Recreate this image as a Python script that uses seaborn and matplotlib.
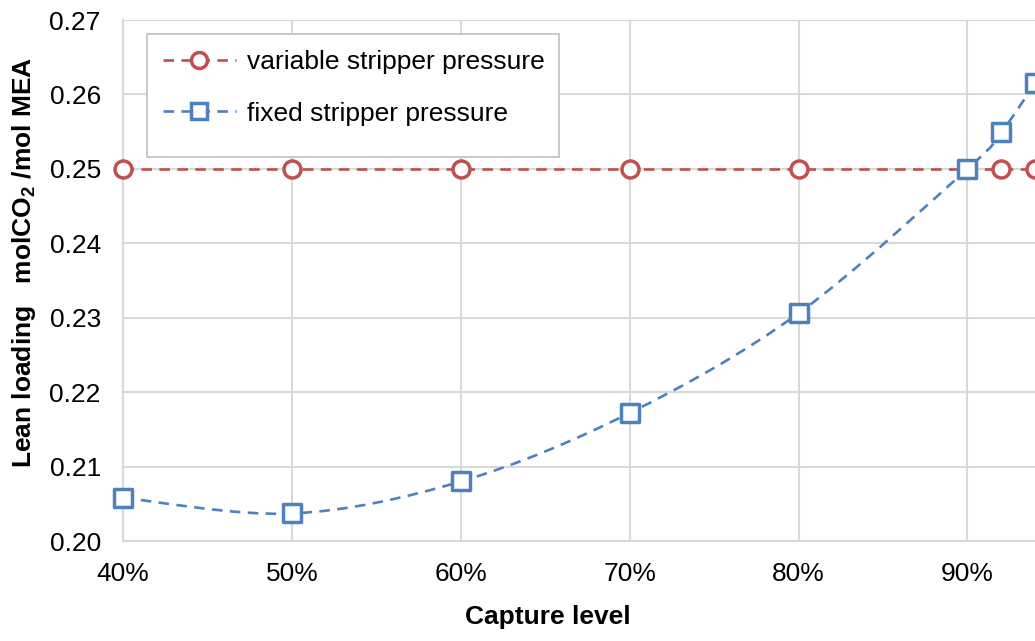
import numpy as np
import pandas as pd
import matplotlib
matplotlib.use("Agg")
import matplotlib.pyplot as plt
from matplotlib.path import Path
from matplotlib.patches import PathPatch, Rectangle
from matplotlib.lines import Line2D
from matplotlib.ticker import FuncFormatter, MultipleLocator
import seaborn as sns

# ---- data ----
capture = [0.40, 0.50, 0.60, 0.70, 0.80, 0.90, 0.92, 0.94]
variable_pressure = [0.250, 0.250, 0.250, 0.250, 0.250, 0.250, 0.250, 0.250]
fixed_pressure = [0.2058, 0.2037, 0.2080, 0.2172, 0.2306, 0.2500, 0.2549, 0.2615]
series_names = ["variable stripper pressure", "fixed stripper pressure"]

RED = "#c0504d"
BLUE = "#4f81bd"
GRID = "#d9d9d9"

sns.set_theme(style="white")
plt.rcParams["font.family"] = ["Liberation Sans", "DejaVu Sans"]
plt.rcParams["mathtext.fontset"] = "custom"
plt.rcParams["mathtext.rm"] = "Liberation Sans"
plt.rcParams["mathtext.bf"] = "Liberation Sans:bold"
plt.rcParams["text.color"] = "black"
plt.rcParams["axes.labelcolor"] = "black"

FS = 19

fig = plt.figure(figsize=(10.35, 6.41), dpi=100)
ax = fig.add_axes([123 / 1035, 1 - 541 / 641, 1 - 123 / 1035, (541 - 20) / 641])

df_var = pd.DataFrame({"x": capture, "y": variable_pressure})
df_fix = pd.DataFrame({"x": capture, "y": fixed_pressure})

dash = (4.0, 2.8)
lw = 1.9

# variable: straight dashed line
sns.lineplot(data=df_var, x="x", y="y", ax=ax, color=RED, lw=lw,
             dashes=False, zorder=3, sort=False)
ax.lines[-1].set_dashes(dash)

# fixed: smooth (Excel-style) dashed curve built from the data points
xs = np.asarray(capture)
ys = np.asarray(fixed_pressure)
verts = [(xs[0], ys[0])]
codes = [Path.MOVETO]
n = len(xs)
for i in range(n - 1):
    p0 = np.array([xs[max(i - 1, 0)], ys[max(i - 1, 0)]])
    p1 = np.array([xs[i], ys[i]])
    p2 = np.array([xs[i + 1], ys[i + 1]])
    p3 = np.array([xs[min(i + 2, n - 1)], ys[min(i + 2, n - 1)]])
    c1 = p1 + (p2 - p0) / 6.0
    c2 = p2 - (p3 - p1) / 6.0
    verts += [tuple(c1), tuple(c2), tuple(p2)]
    codes += [Path.CURVE4] * 3
patch = PathPatch(Path(verts, codes), facecolor="none", edgecolor=BLUE,
                  lw=lw, linestyle=(0, dash), zorder=3)
ax.add_patch(patch)

# markers
sns.scatterplot(data=df_var, x="x", y="y", ax=ax, marker="o", s=150,
                facecolor="white", edgecolor=RED, linewidth=2.5,
                zorder=4, clip_on=False)
sns.scatterplot(data=df_fix, x="x", y="y", ax=ax, marker="s", s=165,
                facecolor="white", edgecolor=BLUE, linewidth=2.5, zorder=5,
                clip_on=False)

ax.set_xlim(0.40, 0.94)
ax.set_ylim(0.20, 0.27)
ax.xaxis.set_major_locator(MultipleLocator(0.10))
ax.yaxis.set_major_locator(MultipleLocator(0.01))
ax.xaxis.set_major_formatter(FuncFormatter(lambda v, p: f"{v*100:.0f}%"))
ax.yaxis.set_major_formatter(FuncFormatter(lambda v, p: f"{v:.2f}"))
ax.grid(True, color=GRID, lw=1.5)
ax.set_axisbelow(True)
for s in ["top", "right"]:
    ax.spines[s].set_visible(False)
for s in ["left", "bottom"]:
    ax.spines[s].set_color(GRID)
    ax.spines[s].set_linewidth(1.5)
ax.tick_params(axis="both", length=0, labelsize=FS, colors="black")
ax.tick_params(axis="x", pad=15)
ax.tick_params(axis="y", pad=16)

ax.set_xlabel("Capture level", fontsize=FS, fontweight="bold")
ax.xaxis.set_label_coords(0.466, -0.122)
ax.set_ylabel(r"Lean loading   molCO$_{\mathbf{2}}$ /mol MEA", fontsize=FS,
              fontweight="bold")
ax.yaxis.set_label_coords(-0.093, 0.534)

# legend box (Excel-like, with more room below the entries)
box = Rectangle((0.0263, 0.737), 0.478 - 0.0263, 0.973 - 0.737,
                transform=ax.transAxes, facecolor="white", edgecolor="#bfbfbf",
                lw=1.2, zorder=6, clip_on=False)
ax.add_patch(box)

handles = [
    Line2D([], [], color=RED, lw=lw, dashes=dash, marker="o", markersize=11.5,
           markerfacecolor="white", markeredgecolor=RED, markeredgewidth=2.5),
    Line2D([], [], color=BLUE, lw=lw, dashes=dash, marker="s", markersize=11.5,
           markerfacecolor="white", markeredgecolor=BLUE, markeredgewidth=2.5),
]
leg = ax.legend(handles, series_names, loc="upper left",
                bbox_to_anchor=(0.026, 0.973), fontsize=FS, frameon=False,
                handlelength=2.8, handletextpad=0.4, borderpad=0.6,
                labelspacing=1.05, borderaxespad=0)
leg.set_zorder(7)

fig.savefig("out.png", dpi=100)
